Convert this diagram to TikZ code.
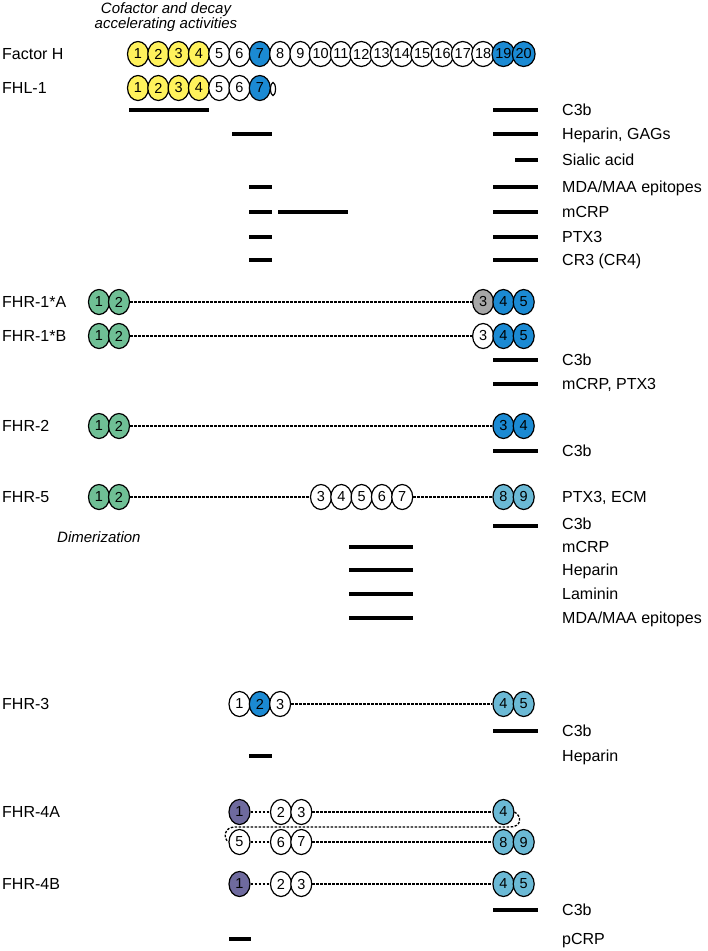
\documentclass[tikz,border=0pt]{standalone}
\usepackage{fontspec}
\setmainfont{Liberation Sans}
\usetikzlibrary{shapes.geometric}

\definecolor{ccpyel}{HTML}{FFF25C}
\definecolor{ccpblu}{HTML}{1B8AD3}
\definecolor{ccpgrn}{HTML}{6FBF95}
\definecolor{ccpgry}{HTML}{A6A6A6}
\definecolor{ccpsky}{HTML}{6BB9D5}
\definecolor{ccppur}{HTML}{6E6A9E}

\begin{document}
\begin{tikzpicture}[x=1pt, y=-1pt,
    ccp/.style={ellipse, draw=black, line width=1.2pt, minimum width=21pt, minimum height=25pt,
      inner sep=0, font=\fontsize{14.5}{14.5}\selectfont},
    white/.style={ccp, fill=white},
    yellow/.style={ccp, fill=ccpyel},
    blue/.style={ccp, fill=ccpblu},
    green/.style={ccp, fill=ccpgrn},
    grey/.style={ccp, fill=ccpgry},
    sky/.style={ccp, fill=ccpsky},
    purple/.style={ccp, fill=ccppur},
    linker/.style={line width=1.3pt, dash pattern=on 2.5pt off 1.5pt},
    bindbar/.style={line width=3.5pt},
    ligand/.style={anchor=base west, yshift=-5.7pt, inner sep=0, font=\fontsize{16}{16}\selectfont},
    protein/.style={ligand},
    note/.style={anchor=base, inner sep=0, font=\itshape\fontsize{15}{15}\selectfont}
  ]
  \useasboundingbox (0,0) rectangle (708,951);

  % Factor H and FHL-1
  \node[note] (cof1) at (166,13) {Cofactor and decay};
  \node[note] (cof2) at (166,28.5) {accelerating activities};
  \node[protein] (fhname) at (2,54) {Factor H};
  \foreach \i/\kind in {1/yellow,2/yellow,3/yellow,4/yellow,5/white,6/white,7/blue,
      8/white,9/white,10/white,11/white,12/white,13/white,14/white,15/white,
      16/white,17/white,18/white,19/blue,20/blue}
    \node[\kind] (fh\i) at ({138+20.3*(\i-1)},54) {\i};

  \node[protein] (fhlname) at (2,88) {FHL-1};
  \node[ellipse, draw, line width=1.2pt, fill=white, minimum width=5pt, minimum height=13pt,
    inner sep=0] (fhltail) at (273,89) {};
  \node[yellow] (fhl1) at (138,88) {1};
  \node[yellow] (fhl2) at (158.3,88) {2};
  \node[yellow] (fhl3) at (178.6,88) {3};
  \node[yellow] (fhl4) at (198.9,88) {4};
  \node[white] (fhl5) at (219.2,88) {5};
  \node[white] (fhl6) at (239.5,88) {6};
  \node[blue] (fhl7) at (259.8,88) {7};

  \draw[bindbar] (129,110) -- (209,110);
  \draw[bindbar] (493,110) -- (538,110);
  \node[ligand] (fhc3b) at (562,110) {C3b};
  \draw[bindbar] (232,134) -- (272,134);
  \draw[bindbar] (493,134) -- (538,134);
  \node[ligand] (fhhep) at (562,134) {Heparin, GAGs};
  \draw[bindbar] (515,160) -- (538,160);
  \node[ligand] (fhsia) at (562,160) {Sialic acid};
  \draw[bindbar] (249,187) -- (272,187);
  \draw[bindbar] (493,187) -- (538,187);
  \node[ligand] (fhmda) at (562,187) {MDA/MAA epitopes};
  \draw[bindbar] (249,212) -- (272,212);
  \draw[bindbar] (278,212) -- (348,212);
  \draw[bindbar] (493,212) -- (538,212);
  \node[ligand] (fhcrp) at (562,212) {mCRP};
  \draw[bindbar] (249,237) -- (272,237);
  \draw[bindbar] (493,237) -- (538,237);
  \node[ligand] (fhptx) at (562,237) {PTX3};
  \draw[bindbar] (249,260) -- (272,260);
  \draw[bindbar] (493,260) -- (538,260);
  \node[ligand] (fhcr3) at (562,260) {CR3 (CR4)};

  % FHR-1
  \node[protein] (raname) at (2,302) {FHR-1*A};
  \node[green] (ra1) at (99,302) {1};
  \node[green] (ra2) at (119,302) {2};
  \node[grey] (ra3) at (483.1,302) {3};
  \node[blue] (ra4) at (503.4,302) {4};
  \node[blue] (ra5) at (523.7,302) {5};
  \draw[linker] (ra2.east) -- (ra3.west);

  \node[protein] (rbname) at (2,336) {FHR-1*B};
  \node[green] (rb1) at (99,336) {1};
  \node[green] (rb2) at (119,336) {2};
  \node[white] (rb3) at (483.1,336) {3};
  \node[blue] (rb4) at (503.4,336) {4};
  \node[blue] (rb5) at (523.7,336) {5};
  \draw[linker] (rb2.east) -- (rb3.west);
  \draw[bindbar] (493,360) -- (538,360);
  \node[ligand] (r1c3b) at (562,360) {C3b};
  \draw[bindbar] (493,384) -- (538,384);
  \node[ligand] (r1crp) at (562,384) {mCRP, PTX3};

  % FHR-2
  \node[protein] (r2name) at (2,426) {FHR-2};
  \node[green] (r21) at (99,426) {1};
  \node[green] (r22) at (119,426) {2};
  \node[blue] (r23) at (503.4,426) {3};
  \node[blue] (r24) at (523.7,426) {4};
  \draw[linker] (r22.east) -- (r23.west);
  \draw[bindbar] (493,451) -- (538,451);
  \node[ligand] (r2c3b) at (562,451) {C3b};

  % FHR-5
  \node[protein] (r5name) at (2,497) {FHR-5};
  \node[green] (r51) at (99,497) {1};
  \node[green] (r52) at (119,497) {2};
  \node[white] (r53) at (321,497) {3};
  \node[white] (r54) at (341.3,497) {4};
  \node[white] (r55) at (361.6,497) {5};
  \node[white] (r56) at (381.9,497) {6};
  \node[white] (r57) at (402.2,497) {7};
  \node[sky] (r58) at (503.4,497) {8};
  \node[sky] (r59) at (523.7,497) {9};
  \draw[linker] (r52.east) -- (r53.west);
  \draw[linker] (r57.east) -- (r58.west);
  \node[ligand] (r5ptx) at (562,497) {PTX3, ECM};
  \node[note, anchor=base west] (dimer) at (57,542) {Dimerization};
  \draw[bindbar] (493,526) -- (538,526);
  \node[ligand] (r5c3b) at (562,524) {C3b};
  \draw[bindbar] (349,547) -- (413,547);
  \node[ligand] (r5crp) at (562,547) {mCRP};
  \draw[bindbar] (349,570) -- (413,570);
  \node[ligand] (r5hep) at (562,570) {Heparin};
  \draw[bindbar] (349,594) -- (413,594);
  \node[ligand] (r5lam) at (562,594) {Laminin};
  \draw[bindbar] (349,618) -- (413,618);
  \node[ligand] (r5mda) at (562,618) {MDA/MAA epitopes};

  % FHR-3
  \node[protein] (r3name) at (2,704) {FHR-3};
  \node[white] (r31) at (239.5,704) {1};
  \node[blue] (r32) at (259.8,704) {2};
  \node[white] (r33) at (280.1,704) {3};
  \node[sky] (r34) at (503.4,704) {4};
  \node[sky] (r35) at (523.7,704) {5};
  \draw[linker] (r33.east) -- (r34.west);
  \draw[bindbar] (493,731) -- (538,731);
  \node[ligand] (r3c3b) at (562,731) {C3b};
  \draw[bindbar] (249,756) -- (272,756);
  \node[ligand] (r3hep) at (562,756) {Heparin};

  % FHR-4A, folded in two rows
  \node[protein] (r4aname) at (2,812) {FHR-4A};
  \node[purple] (r4a1) at (239.5,812) {1};
  \node[white] (r4a2) at (281,812) {2};
  \node[white] (r4a3) at (301.3,812) {3};
  \node[sky] (r4a4) at (503.4,812) {4};
  \node[white] (r4a5) at (239.5,842) {5};
  \node[white] (r4a6) at (281,842) {6};
  \node[white] (r4a7) at (301.3,842) {7};
  \node[sky] (r4a8) at (503.4,842) {8};
  \node[sky] (r4a9) at (523.7,842) {9};
  \draw[linker] (r4a1.east) -- (r4a2.west);
  \draw[linker] (r4a3.east) -- (r4a4.west);
  \draw[linker] (r4a4.east) .. controls (522,816) and (522,827) .. (510,827) -- (235,827)
    .. controls (224,827) and (223,838) .. (r4a5.west);
  \draw[linker] (r4a5.east) -- (r4a6.west);
  \draw[linker] (r4a7.east) -- (r4a8.west);

  % FHR-4B
  \node[protein] (r4bname) at (2,884) {FHR-4B};
  \node[purple] (r4b1) at (239.5,884) {1};
  \node[white] (r4b2) at (281,884) {2};
  \node[white] (r4b3) at (301.3,884) {3};
  \node[sky] (r4b4) at (503.4,884) {4};
  \node[sky] (r4b5) at (523.7,884) {5};
  \draw[linker] (r4b1.east) -- (r4b2.west);
  \draw[linker] (r4b3.east) -- (r4b4.west);
  \draw[bindbar] (493,910) -- (538,910);
  \node[ligand] (r4c3b) at (562,910) {C3b};
  \draw[bindbar] (229,939) -- (251,939);
  \node[ligand] (r4crp) at (562,939) {pCRP};
\end{tikzpicture}
\end{document}
